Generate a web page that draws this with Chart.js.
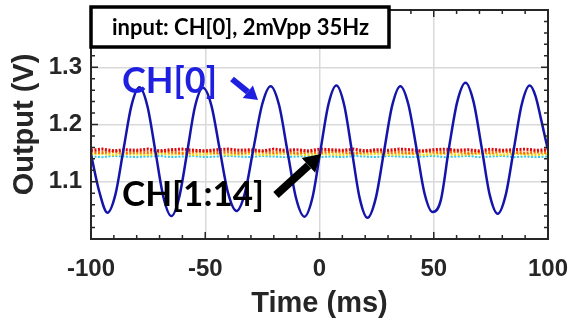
<!DOCTYPE html>
<html>
<head>
<meta charset="utf-8">
<script src="https://cdn.jsdelivr.net/npm/chart.js@4.4.1/dist/chart.umd.min.js"></script>
<style>
  html, body { margin: 0; padding: 0; background: #fff; }
  canvas { display: block; }
</style>
</head>
<body>
<canvas id="outputChart" width="571" height="327"></canvas>
<script>
// CH[0] の出力波形 (35Hz, 2mVpp 入力)
const timeMs = [-100, -96.4, -92.8, -89.3, -85.8, -82.3, -78.8, -75.3, -71.8, -68.3,
  -64.8, -61.4, -57.9, -54.5, -51.0, -47.3, -43.7, -40.0, -36.3, -32.6,
  -28.9, -25.1, -21.4, -17.7, -14.0, -10.3, -6.6, -3.1, 0.4, 3.9,
  7.4, 10.8, 14.2, 17.6, 21.0, 24.6, 28.2, 31.8, 35.4, 38.9,
  42.5, 46.0, 49.5, 53.1, 56.7, 60.3, 63.9, 67.4, 71.0, 74.5,
  78.0, 81.5, 85.0, 88.5, 92.0, 94.5, 97.2, 100];
const ch0Volts = [1.148, 1.083, 1.046, 1.078, 1.156, 1.233, 1.265, 1.232, 1.153, 1.073,
  1.040, 1.073, 1.152, 1.231, 1.264, 1.233, 1.157, 1.080, 1.049, 1.081,
  1.158, 1.235, 1.267, 1.234, 1.153, 1.072, 1.039, 1.072, 1.154, 1.235,
  1.268, 1.234, 1.153, 1.071, 1.037, 1.071, 1.152, 1.233, 1.267, 1.235,
  1.157, 1.079, 1.047, 1.068, 1.160, 1.240, 1.273, 1.240, 1.159, 1.077,
  1.044, 1.077, 1.156, 1.235, 1.268, 1.250, 1.205, 1.155];

// CH[1:14] (入力なし) のノイズ帯
const noiseTimeMs = [-100, -95, -90, -85, -80, -75, -70, -65, -60, -55,
  -50, -45, -40, -35, -30, -25, -20, -15, -10, -5,
  0, 5, 10, 15, 20, 25, 30, 35, 40, 45,
  50, 55, 60, 65, 70, 75, 80, 85, 90, 95, 100];
const chRed = [1.155, 1.157, 1.154, 1.156, 1.155, 1.157, 1.154, 1.156, 1.157, 1.155,
  1.154, 1.156, 1.157, 1.155, 1.156, 1.154, 1.157, 1.155, 1.156, 1.154,
  1.157, 1.156, 1.155, 1.157, 1.154, 1.156, 1.155, 1.157, 1.156, 1.154,
  1.156, 1.157, 1.155, 1.156, 1.154, 1.157, 1.155, 1.156, 1.157, 1.155, 1.156];
const chOrange = [1.152, 1.151, 1.153, 1.150, 1.152, 1.151, 1.153, 1.152, 1.150, 1.152,
  1.153, 1.151, 1.152, 1.150, 1.153, 1.152, 1.151, 1.153, 1.150, 1.152,
  1.151, 1.153, 1.152, 1.150, 1.152, 1.153, 1.151, 1.152, 1.150, 1.153,
  1.152, 1.151, 1.153, 1.150, 1.152, 1.151, 1.153, 1.152, 1.150, 1.152, 1.151];
const chYellow = [1.148, 1.149, 1.147, 1.149, 1.148, 1.147, 1.149, 1.148, 1.149, 1.147,
  1.148, 1.149, 1.147, 1.148, 1.149, 1.147, 1.148, 1.149, 1.148, 1.147,
  1.149, 1.148, 1.147, 1.149, 1.148, 1.149, 1.147, 1.148, 1.149, 1.147,
  1.148, 1.149, 1.147, 1.148, 1.149, 1.148, 1.147, 1.149, 1.148, 1.147, 1.149];
const chCyan = [1.144, 1.143, 1.145, 1.144, 1.143, 1.144, 1.145, 1.143, 1.144, 1.145,
  1.143, 1.144, 1.145, 1.144, 1.143, 1.145, 1.144, 1.143, 1.144, 1.145,
  1.143, 1.144, 1.143, 1.145, 1.144, 1.143, 1.145, 1.144, 1.143, 1.144,
  1.145, 1.143, 1.144, 1.145, 1.143, 1.144, 1.145, 1.143, 1.144, 1.143, 1.144];

const xLabels = [-100, -50, 0, 50, 100];
const yLabels = [1.1, 1.2, 1.3];

const toPoints = (xs, ys) => xs.map((x, i) => ({x: x, y: ys[i]}));

const textColor = '#262626';
const tickFont = {family: "'Liberation Sans', Arial, sans-serif", size: 24, weight: 'bold'};
const titleFont = {family: "'Liberation Sans', Arial, sans-serif", size: 29, weight: 'bold', lineHeight: 1.2};

const noiseSet = (data, color, width) => ({
  data: toPoints(noiseTimeMs, data),
  borderColor: color,
  borderWidth: width,
  borderDash: [2, 1.5],
  pointRadius: 0,
  tension: 0
});

// 内向きの目盛りと枠
const frameTicks = {
  id: 'frameTicks',
  afterDatasetsDraw(chart) {
    const {ctx, chartArea: a, scales: {x, y}} = chart;
    ctx.save();
    ctx.strokeStyle = textColor;
    ctx.lineWidth = 1.5;
    ctx.beginPath();
    x.ticks.forEach(t => {
      const px = x.getPixelForValue(t.value);
      const len = Math.round(t.value) % 50 === 0 ? 7 : 4;
      ctx.moveTo(px, a.bottom); ctx.lineTo(px, a.bottom - len);
      ctx.moveTo(px, a.top); ctx.lineTo(px, a.top + len);
    });
    y.ticks.forEach(t => {
      const py = y.getPixelForValue(t.value);
      const len = Math.round(t.value * 100) % 10 === 0 ? 7 : 4;
      ctx.moveTo(a.left, py); ctx.lineTo(a.left + len, py);
      ctx.moveTo(a.right, py); ctx.lineTo(a.right - len, py);
    });
    ctx.stroke();
    ctx.lineWidth = 2;
    ctx.strokeRect(a.left, a.top, a.right - a.left, a.bottom - a.top);
    ctx.restore();
  }
};

function arrow(ctx, x0, y0, x1, y1, width, headLen, headWidth, color) {
  const ang = Math.atan2(y1 - y0, x1 - x0);
  const bx = x1 - Math.cos(ang) * headLen;
  const by = y1 - Math.sin(ang) * headLen;
  ctx.save();
  ctx.strokeStyle = color;
  ctx.fillStyle = color;
  ctx.lineWidth = width;
  ctx.beginPath();
  ctx.moveTo(x0, y0);
  ctx.lineTo(bx, by);
  ctx.stroke();
  ctx.beginPath();
  ctx.moveTo(x1, y1);
  ctx.lineTo(bx + Math.sin(ang) * headWidth / 2, by - Math.cos(ang) * headWidth / 2);
  ctx.lineTo(bx - Math.sin(ang) * headWidth / 2, by + Math.cos(ang) * headWidth / 2);
  ctx.closePath();
  ctx.fill();
  ctx.restore();
}

// 注釈 (入力条件ボックス、チャンネル名、矢印)
const annotations = {
  id: 'annotations',
  afterDraw(chart) {
    const {ctx, chartArea: a} = chart;
    ctx.save();
    ctx.fillStyle = '#fff';
    ctx.fillRect(a.left, 7, 298, 40);
    ctx.strokeStyle = '#000';
    ctx.lineWidth = 3.5;
    ctx.strokeRect(a.left, 7, 298, 40);
    ctx.fillStyle = '#000';
    ctx.font = "bold 22px Lato, sans-serif";
    ctx.textBaseline = 'middle';
    ctx.textAlign = 'left';
    ctx.fillText('input: CH[0], 2mVpp 35Hz', 112, 28);

    ctx.fillStyle = '#1f1fe0';
    ctx.font = "bold 36px Lato, sans-serif";
    ctx.fillText('CH[0]', 122, 81);
    arrow(ctx, 232, 79, 258, 100, 6, 13, 16, '#1f1fe0');

    ctx.fillStyle = '#000';
    ctx.font = "bold 35px Lato, sans-serif";
    ctx.fillText('CH[1:14]', 122, 195);
    arrow(ctx, 276, 195, 321, 154, 8, 17, 20, '#000');
    ctx.restore();
  }
};

new Chart(document.getElementById('outputChart'), {
  type: 'line',
  data: {
    datasets: [
      {
        data: toPoints(timeMs, ch0Volts),
        borderColor: '#1414aa',
        borderWidth: 2.5,
        pointRadius: 0,
        cubicInterpolationMode: 'monotone'
      },
      noiseSet(chRed, '#e00808', 3),
      noiseSet(chOrange, '#ff6a00', 3),
      noiseSet(chYellow, '#f2d810', 2.5),
      noiseSet(chCyan, '#30c8e8', 2)
    ]
  },
  options: {
    responsive: false,
    animation: false,
    layout: {padding: {left: 0, top: 10, right: 23, bottom: 0}},
    plugins: {
      legend: {display: false},
      tooltip: {enabled: false}
    },
    scales: {
      x: {
        type: 'linear',
        min: -100,
        max: 100,
        afterFit: s => { s.height = 88; s.paddingLeft = 0; s.paddingRight = 0; },
        ticks: {
          stepSize: 10,
          autoSkip: false,
          maxRotation: 0,
          padding: 16,
          color: textColor,
          font: tickFont,
          callback: v => xLabels.includes(Math.round(v)) ? String(Math.round(v)) : ''
        },
        grid: {
          drawTicks: false,
          lineWidth: 1.5,
          color: c => (Math.round(c.tick.value) % 50 === 0 ? '#d9d9d9' : 'rgba(0,0,0,0)')
        },
        border: {display: false},
        title: {
          display: true,
          text: 'Time (ms)',
          color: textColor,
          font: titleFont,
          padding: {top: 0, bottom: 6}
        }
      },
      y: {
        min: 1.0,
        max: 1.4,
        afterFit: s => { s.width = 91; s.paddingTop = 0; s.paddingBottom = 0; },
        ticks: {
          stepSize: 0.02,
          autoSkip: false,
          padding: 9,
          color: textColor,
          font: tickFont,
          callback: v => {
            const r = Math.round(v * 100) / 100;
            return yLabels.includes(r) ? r.toFixed(1) : '';
          }
        },
        grid: {
          drawTicks: false,
          lineWidth: 1.5,
          color: c => (Math.round(c.tick.value * 100) % 10 === 0 ? '#d9d9d9' : 'rgba(0,0,0,0)')
        },
        border: {display: false},
        title: {
          display: true,
          text: 'Output (V)',
          color: textColor,
          font: titleFont,
          padding: {top: 8, bottom: 0}
        }
      }
    }
  },
  plugins: [frameTicks, annotations]
});
</script>
</body>
</html>
